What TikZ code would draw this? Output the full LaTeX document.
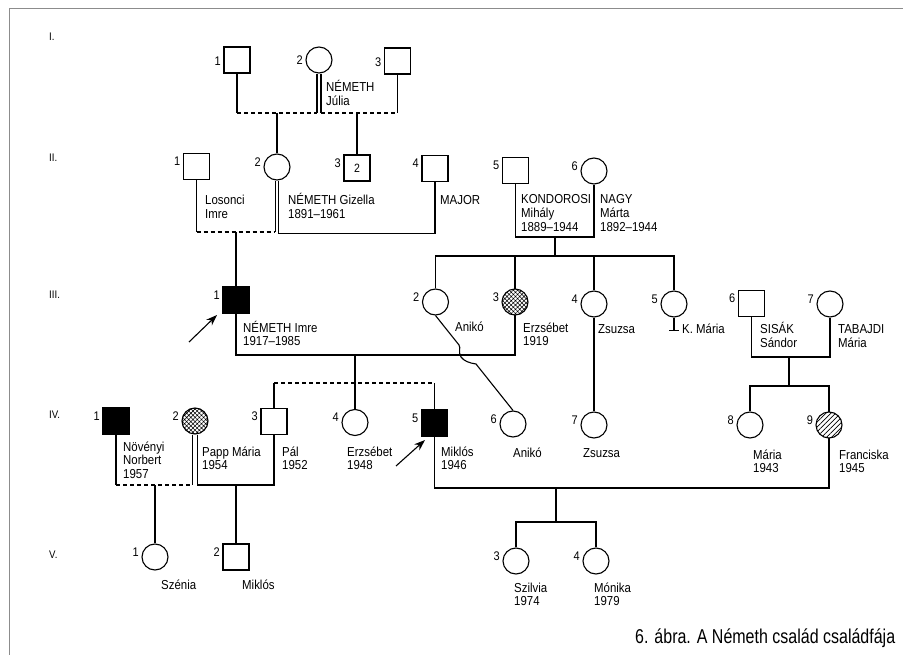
\documentclass[tikz,border=0pt]{standalone}
\usepackage{fontspec}
\setmainfont{Liberation Sans}[FakeStretch=0.88]
\newfontfamily\capfont{Liberation Sans}[FakeStretch=0.8]
\usetikzlibrary{arrows.meta,patterns.meta}
\newcommand{\mlines}[1]{\begin{tabular}[t]{@{}l@{}}#1\end{tabular}}
\begin{document}
\begin{tikzpicture}[x=1pt,y=-1pt,
  ln/.style={line width=1.1pt},
  dsh/.style={line width=1.1pt, dash pattern=on 4pt off 3pt},
  msq/.style={draw, rectangle, minimum size=26pt, inner sep=0pt, line width=1.1pt, font=\fontsize{12}{13}\selectfont},
  fci/.style={draw, circle, minimum size=26pt, inner sep=0pt, line width=1.1pt},
  aff/.style={fill=black},
  xh/.style={pattern={Hatch[angle=45,distance=3pt,line width=0.6pt]}},
  dh/.style={pattern={Lines[angle=45,distance=3.5pt,line width=0.7pt]}},
  num/.style={font=\fontsize{12.5}{13}\selectfont, yshift=5pt, inner sep=2.5pt},
  txt/.style={anchor=base west, inner sep=0pt, font=\fontsize{13}{13.5}\selectfont},
  gen/.style={anchor=west, inner sep=0pt, font=\fontsize{11}{12}\selectfont},
  arr/.style={-{Stealth[length=11pt,width=8pt]}, line width=1.1pt},
  frm/.style={draw=black!45, line width=0.8pt}
]
\useasboundingbox (0,0) rectangle (903,655);
\draw[frm] (9,655) -- (9,8) -- (903,8);

% generation labels
\node[gen] (gI) at (49,37) {I.};
\node[gen] (gII) at (49,158) {II.};
\node[gen] (gIII) at (49,295) {III.};
\node[gen] (gIV) at (49,415) {IV.};
\node[gen] (gV) at (49,555) {V.};

% Row I
\node[msq, label={[num,yshift=-6pt]left:1}] (I1) at (237,60) {};
\node[fci, label={[num,yshift=-5pt]left:2}] (I2) at (319,60) {};
\node[msq, label={[num,yshift=-6pt]left:3}] (I3) at (397.5,61) {};

% Row II
\node[msq, label={[num]left:1}] (II1) at (196.5,166.5) {};
\node[fci, label={[num]left:2}] (II2) at (277,167) {};
\node[msq, label={[num]left:3}] (II3) at (357,168) {2};
\node[msq, label={[num]left:4}] (II4) at (435,168.5) {};
\node[msq, label={[num]left:5}] (II5) at (515.5,170.5) {};
\node[fci, label={[num]left:6}] (II6) at (594,171) {};

% Row III
\node[msq, aff, label={[num]left:1}] (III1) at (236,300) {};
\node[fci, label={[num]left:2}] (III2) at (435.5,302) {};
\node[fci, xh, label={[num]left:3}] (III3) at (515,302) {};
\node[fci, label={[num]left:4}] (III4) at (594,304) {};
\node[fci, label={[num]left:5}] (III5) at (674,304) {};
\node[msq, label={[num]left:6}] (III6) at (751.5,303.5) {};
\node[fci, label={[num]left:7}] (III7) at (830,304) {};

% Row IV
\node[msq, aff, label={[num]left:1}] (IV1) at (116,421) {};
\node[fci, xh, label={[num]left:2}] (IV2) at (195,421) {};
\node[msq, label={[num]left:3}] (IV3) at (274,421.5) {};
\node[fci, label={[num]left:4}] (IV4) at (355,422.5) {};
\node[msq, aff, label={[num]left:5}] (IV5) at (434.5,423) {};
\node[fci, label={[num]left:6}] (IV6) at (513,424) {};
\node[fci, label={[num]left:7}] (IV7) at (594,425) {};
\node[fci, label={[num]left:8}] (IV8) at (750,425) {};
\node[fci, dh, label={[num]left:9}] (IV9) at (829,425) {};

% Row V
\node[fci, label={[num]left:1}] (V1) at (155,557) {};
\node[msq, label={[num]left:2}] (V2) at (236,557) {};
\node[fci, label={[num]left:3}] (V3) at (516,561) {};
\node[fci, label={[num]left:4}] (V4) at (596,561) {};

% ---- connectors generation I
\coordinate (uI) at (0,113);
\draw[ln] (I1.south) -- (I1.south |- uI) coordinate (uIa);
\draw[ln] (I3.south) -- (I3.south |- uI) coordinate (uIb);
\draw[ln] ([xshift=-2pt]I2.south) -- ([xshift=-2pt]I2.south |- uI) coordinate (uIc);
\draw[ln] ([xshift=2pt]I2.south) -- ([xshift=2pt]I2.south |- uI) coordinate (uId);
\draw[dsh] (uIa) -- (uIc);
\draw[dsh] (uId) -- (uIb);
\draw[ln] (II2.north |- uI) -- (II2.north);
\draw[ln] (II3.north |- uI) -- (II3.north);

% ---- generation II
\coordinate (uII) at (0,232);
\coordinate (uII2) at (0,233.5);
\draw[ln] (II1.south) -- (II1.south |- uII) coordinate (uIIa);
\draw[ln] ([xshift=-1.8pt]II2.south) -- ([xshift=-1.8pt]II2.south |- uII) coordinate (uIIb);
\draw[dsh] (uIIa) -- (uIIb);
\draw[ln] ([xshift=1.8pt]II2.south) |- (II4.south |- uII2) -- (II4.south);
\draw[ln] (III1.north |- uII) -- (III1.north);

\coordinate (uK) at (0,237);
\coordinate (sK) at (0,256);
\coordinate (dK) at (555,237);
\draw[ln] (II5.south) |- (II6.south |- uK) -- (II6.south);
\draw[ln] (dK) -- (dK |- sK);
\draw[ln] (III2.north) |- (III5.north |- sK) -- (III5.north);
\draw[ln] (III3.north |- sK) -- (III3.north);
\draw[ln] (III4.north |- sK) -- (III4.north);

% ---- generation III
\coordinate (mIII) at (0,355);
\draw[ln] (III1.south) |- (III3.south |- mIII) -- (III3.south);
\draw[ln] (IV4.north |- mIII) -- (IV4.north);
\coordinate (sIV) at (0,383);
\draw[ln] (IV3.north) -- (IV3.north |- sIV) coordinate (sIVa);
\draw[ln] (IV5.north) -- (IV5.north |- sIV) coordinate (sIVb);
\draw[dsh] (sIVa) -- (sIVb);

\draw[ln] (III2.south) -- (459,345) .. controls (461,348) and (458,352) .. (461,357)
  .. controls (464,361) and (469,363) .. (476,364) -- (IV6.north);
\draw[ln] (III4.south) -- (IV7.north);
\draw[ln] (III5.south) -- ++(0,13) coordinate (kT);
\draw[ln] ([xshift=-5pt]kT) -- ([xshift=5pt]kT);

\coordinate (mS) at (0,357);
\coordinate (dS) at (789,357);
\coordinate (sS) at (0,386);
\draw[ln] (III6.south) |- (III7.south |- mS) -- (III7.south);
\draw[ln] (dS) -- (dS |- sS);
\draw[ln] (IV8.north) |- (IV9.north |- sS) -- (IV9.north);

% ---- generation IV
\coordinate (uN) at (0,485);
\draw[ln] (IV1.south) -- (IV1.south |- uN) coordinate (uNa);
\draw[ln] ([xshift=-2.5pt]IV2.south) -- ([xshift=-2.5pt]IV2.south |- uN) coordinate (uNb);
\draw[dsh] (uNa) -- (uNb);
\draw[ln] ([xshift=2.5pt]IV2.south) |- (IV3.south |- uN) -- (IV3.south);
\draw[ln] (V1.north |- uN) -- (V1.north);
\draw[ln] (V2.north |- uN) -- (V2.north);

\coordinate (mM) at (0,488);
\coordinate (dM) at (556,488);
\coordinate (sV) at (0,522);
\draw[ln] (IV5.south) |- (IV9.south |- mM) -- (IV9.south);
\draw[ln] (dM) -- (dM |- sV);
\draw[ln] (V3.north) |- (V4.north |- sV) -- (V4.north);

% arrows
\coordinate (a1s) at (189,342);
\coordinate (a1e) at (217,315);
\coordinate (a2s) at (396,466);
\coordinate (a2e) at (425,440);
\draw[arr] (a1s) -- (a1e);
\draw[arr] (a2s) -- (a2e);

% texts
\node[txt] (tJ) at (326,92) {\mlines{NÉMETH\\Júlia}};
\node[txt] (tL) at (205,205) {\mlines{Losonci\\Imre}};
\node[txt] (tG) at (288,205) {\mlines{NÉMETH Gizella\\1891–1961}};
\node[txt] (tM) at (440,205) {MAJOR};
\node[txt] (tK) at (521,204) {\mlines{KONDOROSI\\Mihály\\1889–1944}};
\node[txt] (tN) at (600,204) {\mlines{NAGY\\Márta\\1892–1944}};
\node[txt] (tI) at (243,332) {\mlines{NÉMETH Imre\\1917–1985}};
\node[txt] (tA) at (455,331) {Anikó};
\node[txt] (tE) at (523,332) {\mlines{Erzsébet\\1919}};
\node[txt] (tZ) at (598,334) {Zsuzsa};
\node[txt] (tKM) at (682,334) {K. Mária};
\node[txt] (tS) at (760,334) {\mlines{SISÁK\\Sándor}};
\node[txt] (tT) at (838,334) {\mlines{TABAJDI\\Mária}};
\node[txt] (tNN) at (123,451) {\mlines{Növényi\\Norbert\\1957}};
\node[txt] (tP) at (202,456) {\mlines{Papp Mária\\1954}};
\node[txt] (tPa) at (282,456) {\mlines{Pál\\1952}};
\node[txt] (tE2) at (347,456) {\mlines{Erzsébet\\1948}};
\node[txt] (tMi) at (441,456) {\mlines{Miklós\\1946}};
\node[txt] (tA2) at (513,457) {Anikó};
\node[txt] (tZ2) at (583,457) {Zsuzsa};
\node[txt] (tMa) at (753,459) {\mlines{Mária\\1943}};
\node[txt] (tF) at (839,459) {\mlines{Franciska\\1945}};
\node[txt] (tSz) at (161,589) {Szénia};
\node[txt] (tMk) at (242,589) {Miklós};
\node[txt] (tSi) at (514,592) {\mlines{Szilvia\\1974}};
\node[txt] (tMo) at (594,592) {\mlines{Mónika\\1979}};

\node[anchor=base west, inner sep=0pt, font=\capfont\fontsize{20}{22}\selectfont] (cap) at (635,643) {6. ábra. A Németh család családfája};
\end{tikzpicture}
\end{document}
